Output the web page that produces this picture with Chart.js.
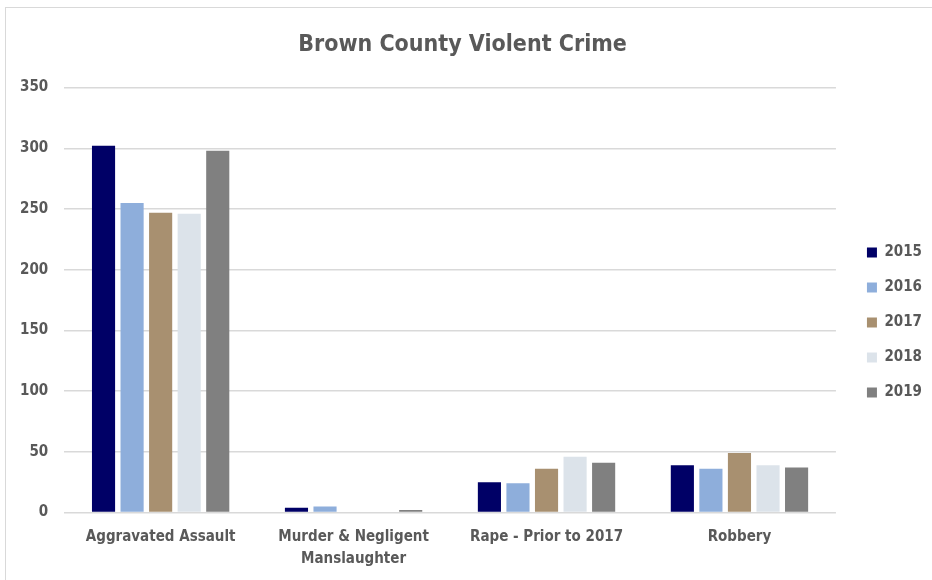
<!DOCTYPE html>
<html>
<head>
<meta charset="utf-8">
<script src="https://cdn.jsdelivr.net/npm/chart.js@4.4.0/dist/chart.umd.min.js"></script>
<style>
  html, body { margin: 0; padding: 0; background: #fff; }
  #wrap { position: relative; width: 932px; height: 580px; overflow: hidden; }
  #frame { position: absolute; left: 5px; top: 7px; width: 1000px; height: 700px; border: 1px solid #d9d9d9; }
  canvas { position: absolute; left: 0; top: 0; }
</style>
</head>
<body>
<div id="wrap">
  <div id="frame"></div>
  <canvas id="myChart" width="932" height="580"></canvas>
</div>
<script>
let ctx = document.getElementById('myChart').getContext('2d')

let fontName = '"DejaVu Sans Condensed", "DejaVu Sans", sans-serif'
let textColor = '#595959'

// data
let categories = ['Aggravated Assault', ['Murder & Negligent', 'Manslaughter'], 'Rape - Prior to 2017', 'Robbery']
let years = ['2015', '2016', '2017', '2018', '2019']
let y2015 = [302, 4, 25, 39]
let y2016 = [255, 5, 24, 36]
let y2017 = [247, 0, 36, 49]
let y2018 = [246, 0, 46, 39]
let y2019 = [298, 2, 41, 37]
let yTicks = [0, 50, 100, 150, 200, 250, 300, 350]

let colors = ['#000066', '#8eaedb', '#a89070', '#dce3ea', '#808080']
let series = [y2015, y2016, y2017, y2018, y2019]

let datasets = []
for (let i = 0; i < years.length; i++) {
  datasets.push({
    label: years[i],
    data: series[i],
    backgroundColor: colors[i],
    borderWidth: 0,
    categoryPercentage: 0.74,
    barPercentage: 0.81
  })
}

// nudge the legend down/right like the excel one
const moveLegend = {
  id: 'moveLegend',
  afterLayout(chart) {
    let lg = chart.legend
    lg.top += 19
    lg.bottom += 19
    lg.left += 11
    lg.right += 11
  }
}

let chart = new Chart(ctx, {
  type: 'bar',
  data: {
    labels: categories,
    datasets: datasets
  },
  plugins: [moveLegend],
  options: {
    responsive: false,
    animation: false,
    layout: { padding: { left: 4, right: 11, top: 31, bottom: 4 } },
    plugins: {
      title: {
        display: true,
        text: 'Brown County Violent Crime',
        color: textColor,
        font: { family: fontName, size: 23, weight: 'bold' },
        padding: { top: 0, bottom: 29 }
      },
      legend: {
        position: 'right',
        labels: {
          color: textColor,
          font: { family: fontName, size: 15, weight: 'bold' },
          boxWidth: 10,
          boxHeight: 10,
          padding: 20
        }
      },
      tooltip: { enabled: false }
    },
    scales: {
      x: {
        grid: { display: false },
        border: { display: false },
        ticks: {
          color: textColor,
          font: { family: fontName, size: 15, weight: 'bold', lineHeight: 1.45 },
          padding: 6,
          maxRotation: 0
        }
      },
      y: {
        min: 0,
        max: 350,
        afterBuildTicks: (axis) => { axis.ticks = yTicks.map(v => ({ value: v })) },
        grid: { color: '#d9d9d9', drawTicks: false, lineWidth: 1.5 },
        border: { display: false },
        ticks: {
          color: textColor,
          font: { family: fontName, size: 15, weight: 'bold' },
          padding: 16
        }
      }
    }
  }
})
</script>
</body>
</html>
